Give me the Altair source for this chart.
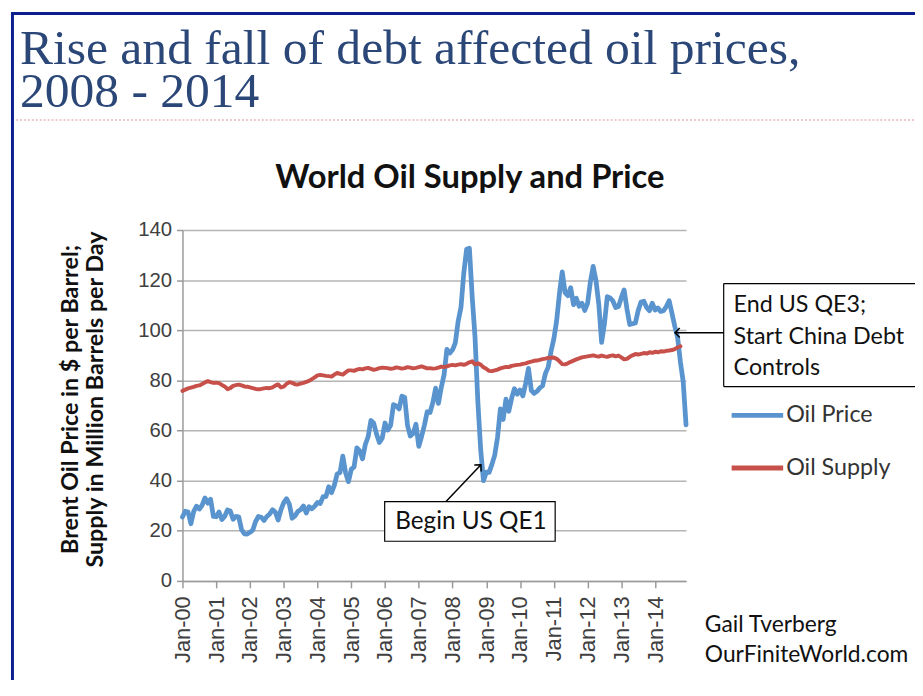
import altair as alt
import pandas as pd

# ---- Brent oil price, $ per barrel (monthly, Jan-2000 .. Dec-2014)
price_2000 = [25.5, 27.8, 27.5, 22.8, 27.7, 29.8, 28.7, 30.2, 33.1, 31.0, 32.6, 25.7]
price_2001 = [25.6, 27.5, 24.5, 25.7, 28.3, 27.9, 24.6, 25.7, 25.6, 20.5, 18.8, 18.7]
price_2002 = [19.4, 20.3, 23.7, 25.7, 25.4, 24.1, 25.7, 26.7, 28.4, 27.5, 24.3, 28.3]
price_2003 = [31.2, 32.8, 30.6, 25.0, 25.9, 27.7, 28.4, 29.9, 27.1, 29.6, 28.8, 29.8]
price_2004 = [31.3, 30.9, 33.6, 33.6, 37.6, 35.2, 38.2, 42.7, 43.2, 49.8, 43.1, 39.6]
price_2005 = [44.5, 45.5, 53.1, 51.9, 48.7, 54.4, 57.5, 64.0, 62.9, 58.5, 55.2, 56.9]
price_2006 = [63.0, 60.2, 62.1, 70.3, 69.8, 68.6, 73.7, 73.2, 62.0, 57.8, 58.8, 62.5]
price_2007 = [53.7, 57.6, 62.1, 67.5, 67.2, 71.1, 76.9, 70.8, 77.2, 82.3, 92.4, 90.9]
price_2008 = [92.2, 95.0, 103.6, 109.1, 122.8, 132.3, 132.7, 113.2, 97.2, 71.6, 52.5, 40.0]
price_2009 = [43.4, 43.3, 46.5, 50.2, 57.3, 68.6, 64.4, 72.5, 67.7, 72.8, 76.7, 74.5]
price_2010 = [76.2, 73.8, 78.8, 84.8, 76.0, 74.8, 75.6, 77.0, 77.8, 82.7, 85.3, 91.5]
price_2011 = [96.5, 103.7, 114.6, 123.3, 115.0, 113.8, 117.0, 110.2, 112.8, 109.6, 110.8, 107.9]
price_2012 = [110.7, 119.3, 125.5, 119.8, 110.3, 95.2, 102.6, 113.4, 112.9, 111.7, 109.1, 109.5]
price_2013 = [113.0, 116.1, 108.5, 102.3, 102.6, 102.9, 107.9, 111.3, 111.6, 109.1, 107.8, 110.8]
price_2014 = [108.1, 108.9, 107.5, 107.8, 109.5, 111.8, 106.8, 101.6, 97.1, 87.4, 79.4, 62.3]

# ---- World oil supply, million barrels per day (monthly, Jan-2000 .. Oct-2014)
supply_2000 = [75.8, 76.3, 76.8, 77.1, 77.4, 77.8, 78.0, 78.6, 79.2, 79.7, 79.3, 79.0]
supply_2001 = [79.1, 78.9, 78.2, 77.6, 76.5, 76.9, 77.8, 78.1, 78.3, 78.0, 77.6, 77.5]
supply_2002 = [77.2, 76.9, 76.6, 76.5, 76.6, 76.8, 77.0, 76.9, 77.2, 77.9, 78.4, 77.2]
supply_2003 = [77.5, 78.6, 79.3, 79.0, 78.5, 78.4, 78.7, 79.0, 79.4, 79.8, 80.5, 81.2]
supply_2004 = [82.0, 82.2, 82.0, 81.8, 81.7, 81.5, 82.3, 83.0, 82.6, 82.3, 83.2, 84.0]
supply_2005 = [84.0, 83.8, 84.3, 84.6, 84.4, 84.8, 85.0, 84.6, 84.2, 84.5, 84.9, 85.1]
supply_2006 = [85.0, 84.9, 84.6, 84.8, 85.2, 85.0, 84.7, 84.9, 85.3, 85.1, 84.8, 85.0]
supply_2007 = [85.3, 85.6, 85.2, 84.8, 84.9, 84.7, 84.8, 85.1, 85.5, 85.3, 85.6, 86.0]
supply_2008 = [86.2, 86.0, 86.3, 86.5, 86.2, 86.6, 87.2, 87.6, 86.4, 86.8, 86.3, 85.2]
supply_2009 = [84.6, 83.8, 83.7, 84.0, 84.3, 84.8, 85.1, 85.4, 85.3, 85.8, 86.0, 86.2]
supply_2010 = [86.3, 86.6, 86.8, 87.2, 87.5, 87.8, 87.9, 88.2, 88.5, 88.7, 89.0, 89.0]
supply_2011 = [89.1, 88.6, 87.6, 86.5, 86.4, 86.8, 87.4, 87.9, 88.4, 88.8, 89.2, 89.4]
supply_2012 = [89.6, 89.8, 90.0, 89.7, 89.5, 89.9, 89.6, 89.4, 89.8, 90.0, 89.6, 89.9]
supply_2013 = [89.2, 88.4, 88.6, 89.4, 90.0, 90.5, 90.3, 90.6, 90.9, 90.7, 91.2, 91.0]
supply_2014 = [91.4, 91.2, 91.6, 91.5, 91.8, 91.9, 92.1, 92.5, 93.1, 93.6]

price = (price_2000 + price_2001 + price_2002 + price_2003 + price_2004 + price_2005
         + price_2006 + price_2007 + price_2008 + price_2009 + price_2010 + price_2011
         + price_2012 + price_2013 + price_2014)
supply = (supply_2000 + supply_2001 + supply_2002 + supply_2003 + supply_2004 + supply_2005
          + supply_2006 + supply_2007 + supply_2008 + supply_2009 + supply_2010 + supply_2011
          + supply_2012 + supply_2013 + supply_2014)

y_ticks = [0, 20, 40, 60, 80, 100, 120, 140]
x_ticks = list(range(0, 180, 12))  # every January

df_price = pd.DataFrame({"m": list(range(len(price))), "v": price})
df_supply = pd.DataFrame({"m": list(range(len(supply))), "v": supply})

# arrows (tip -> tail) in data units (month index, value)
df_arrow_qe3 = pd.DataFrame({"m": [175.1], "v": [99.0], "m2": [192.4], "v2": [99.0]})
df_arrow_qe1 = pd.DataFrame({"m": [106.1], "v": [46.3], "m2": [93.7], "v2": [31.7]})

BLUE = "#5A94CE"
RED = "#C8504B"
GRID = "#B4B4B4"
AX = "#9A9A9A"

xenc = alt.X(
    "m:Q",
    scale=alt.Scale(domain=[0, 179], nice=False, zero=False),
    axis=alt.Axis(
        values=x_ticks,
        labelExpr="'Jan-' + (datum.value < 120 ? '0' : '') + format(datum.value / 12, 'd')",
        labelAngle=270, labelAlign="right", labelBaseline="middle",
        labelFont="Liberation Sans", labelFontSize=22, labelColor="#404040",
        labelPadding=8, grid=False, tickSize=7, tickColor=AX, tickWidth=1.5,
        domainColor=AX, domainWidth=1.5, title=None, labelOverlap=False,
    ),
)
yenc = alt.Y(
    "v:Q",
    scale=alt.Scale(domain=[0, 140], nice=False),
    axis=alt.Axis(
        values=y_ticks, grid=True, gridColor=GRID, gridWidth=1.5,
        tickSize=6, tickColor=AX, tickWidth=1.5, domainColor=AX, domainWidth=1.5,
        labelFont="Liberation Sans", labelFontSize=20.5, labelColor="#404040",
        labelPadding=5, title=None,
    ),
)

one = pd.DataFrame({"a": [0]})


def label(text, x, y, size, font="Lato", weight="normal", color="#111111",
          align="left", baseline="alphabetic", angle=0):
    mk = dict(text=text, font=font, fontSize=size, fontWeight=weight, color=color,
              align=align, baseline=baseline)
    if angle:
        mk["angle"] = angle
    return alt.Chart(one).mark_text(**mk).encode(x=alt.value(x), y=alt.value(y))


def hline(x1, x2, y, color="black", width=1.2, dash=None):
    mk = dict(color=color, strokeWidth=width)
    if dash:
        mk["strokeDash"] = dash
    return alt.Chart(one).mark_rule(**mk).encode(
        x=alt.value(x1), x2=alt.value(x2), y=alt.value(y))


def vline(x, y1, y2, color="black", width=1.2):
    return alt.Chart(one).mark_rule(color=color, strokeWidth=width).encode(
        x=alt.value(x), y=alt.value(y1), y2=alt.value(y2))


# plot-area origin sits at page (184, 229)
border_left = vline(-171.5, -220, 520, color="#0B1F8F", width=3)
border_top = hline(-173, 740, -218.5, color="#0B1F8F", width=3)
dotted = hline(-168, 740, -111, color="#D99292", width=1.2, dash=[2, 2])

title1 = label("Rise and fall of debt affected oil prices,", -164, -167, 50,
               font="Liberation Serif", color="#2B4778")
title2 = label("2008 - 2014", -164, -124, 50, font="Liberation Serif", color="#2B4778")
chart_title = label("World Oil Supply and Price", 290, -42, 33, weight="bold",
                    align="center")
ytitle1 = label("Brent Oil Price in $ per Barrel;", -112, 171, 23.5, weight="bold",
                align="center", baseline="middle", angle=270)
ytitle2 = label("Supply in Million Barrels per Day", -87, 171, 23.5, weight="bold",
                align="center", baseline="middle", angle=270)

line_price = alt.Chart(df_price).mark_line(
    color=BLUE, strokeWidth=4.8, strokeJoin="round", strokeCap="round"
).encode(x=xenc, y=yenc)
line_supply = alt.Chart(df_supply).mark_line(
    color=RED, strokeWidth=4, strokeJoin="round", strokeCap="round"
).encode(x=xenc, y=yenc)

# legend
leg_blue = hline(554, 606, 187, color=BLUE, width=5)
leg_red = hline(554, 606, 240, color=RED, width=5)
leg_t1 = label("Oil Price", 609, 187, 23.5, color="#333333", baseline="middle")
leg_t2 = label("Oil Supply", 609, 240, 23.5, color="#333333", baseline="middle")

# annotation: End US QE3 (box runs off the right edge of the page)
fill_qe3 = alt.Chart(one).mark_rect(fill="white").encode(
    x=alt.value(546), x2=alt.value(740), y=alt.value(54), y2=alt.value(158))
qe3_top = hline(546, 740, 54)
qe3_bot = hline(546, 740, 158)
qe3_left = vline(546, 54, 158)
qe3_l1 = label("End US QE3;", 556, 76, 23.5, baseline="middle")
qe3_l2 = label("Start China Debt", 556, 108, 23.5, baseline="middle")
qe3_l3 = label("Controls", 556, 139, 23.5, baseline="middle")
arrow_qe3 = alt.Chart(df_arrow_qe3).mark_rule(color="black", strokeWidth=1.5).encode(
    x=xenc, y=yenc, x2="m2:Q", y2="v2:Q")
head_qe3 = alt.Chart(df_arrow_qe3).mark_point(
    shape="M1,-1L0,0L1,1", filled=False, stroke="black", strokeWidth=1.5,
    size=90, opacity=1).encode(x=xenc, y=yenc)

# annotation: Begin US QE1
box_qe1 = alt.Chart(one).mark_rect(fill="white", stroke="black", strokeWidth=1.2).encode(
    x=alt.value(204), x2=alt.value(376), y=alt.value(274), y2=alt.value(314))
qe1_t = label("Begin US QE1", 291, 295, 24.5, align="center", baseline="middle")
arrow_qe1 = alt.Chart(df_arrow_qe1).mark_rule(color="black", strokeWidth=1.5).encode(
    x=xenc, y=yenc, x2="m2:Q", y2="v2:Q")
head_qe1 = alt.Chart(df_arrow_qe1).mark_point(
    shape="M-1,-1L0,0L-1,1", filled=False, stroke="black", strokeWidth=1.5,
    size=90, opacity=1, angle=313).encode(x=xenc, y=yenc)

credit1 = label("Gail Tverberg", 527, 406, 23)
credit2 = label("OurFiniteWorld.com", 527, 436, 23)

chart = alt.layer(
    border_left, border_top, dotted, title1, title2, chart_title, ytitle1, ytitle2,
    line_price, line_supply, leg_blue, leg_red, leg_t1, leg_t2,
    arrow_qe3, head_qe3, fill_qe3, qe3_top, qe3_bot, qe3_left, qe3_l1, qe3_l2, qe3_l3,
    arrow_qe1, head_qe1, box_qe1, qe1_t, credit1, credit2,
).properties(
    width=508, height=354,
    autosize=alt.AutoSizeParams(type="none"),
    padding={"left": 176, "top": 221, "right": 231, "bottom": 97},
    background="white",
).configure_view(strokeWidth=0)

chart.save("out.html", embed_options={"renderer": "svg", "actions": False})
